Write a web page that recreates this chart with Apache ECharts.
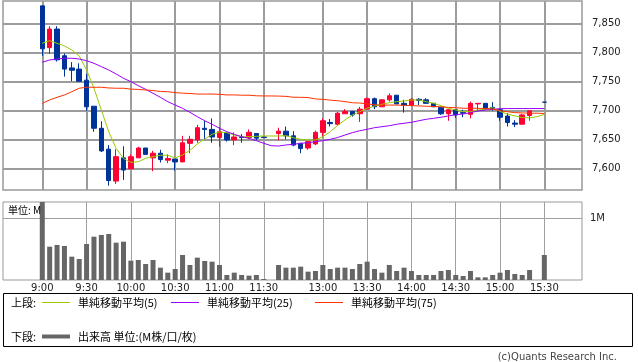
<!DOCTYPE html>
<html><head><meta charset="utf-8">
<script src="https://cdn.jsdelivr.net/npm/echarts@6/dist/echarts.min.js"></script>
<style>html,body{margin:0;padding:0;background:#fff}#c{width:638px;height:362px}</style>
</head><body><div id="c"></div>
<script>
// slot times (5-minute bars); '' = lunch gap slot
const times = ['9:00','9:05','9:10','9:15','9:20','9:25','9:30','9:35','9:40','9:45','9:50','9:55',
'10:00','10:05','10:10','10:15','10:20','10:25','10:30','10:35','10:40','10:45','10:50','10:55',
'11:00','11:05','11:10','11:15','11:20','11:25','11:30','',
'12:30','12:35','12:40','12:45','12:50','12:55','13:00','13:05','13:10','13:15','13:20','13:25',
'13:30','13:35','13:40','13:45','13:50','13:55','14:00','14:05','14:10','14:15','14:20','14:25',
'14:30','14:35','14:40','14:45','14:50','14:55','15:00','15:05','15:10','15:15','15:20','15:25','15:30'];
const tickLabels = ['9:00','9:30','10:00','10:30','11:00','11:30','13:00','13:30','14:00','14:30','15:00','15:30'];
const priceTicks = [7600,7650,7700,7750,7800,7850];
const volTicks = [1];

const openP  = [7880,7808,7840,7794,7773,7771,7752,7707,7669,7633,7578,7618,7599,7618,7635,7618,7626,7614,7616,7611,7643,7649,7669,7667,7653,7661,7649,7654,7653,7660,7654,null,
7660,7664,7656,7643,7635,7642,7662,7679,7676,7694,7698,7694,7702,7720,7706,7718,7726,7712,7709,7719,7718,7712,7705,7694,7701,7696,7693,7711,7712,7705,7701,7690,7678,7676,7691,null,7714];
const closeP = [7806,7840,7787,7771,7769,7750,7706,7669,7630,7579,7620,7597,7620,7635,7624,7626,7615,7617,7611,7644,7650,7670,7667,7654,7663,7649,7654,7653,7662,7652,7653,null,
7664,7656,7640,7634,7646,7662,7682,7677,7695,7698,7692,7702,7720,7706,7718,7725,7711,7709,7719,7717,7712,7706,7694,7701,7692,7695,7712,7712,7703,7703,7688,7679,7676,7692,7699,null,7714];
const lowP   = [7794,7797,7784,7758,7750,7750,7699,7663,7628,7570,7573,7580,7599,7618,7624,7595,7610,7609,7596,7611,7626,7644,7650,7644,7637,7646,7640,7644,7650,7648,7653,null,
7648,7650,7638,7626,7632,7640,7654,7672,7674,7694,7689,7680,7702,7702,7706,7715,7711,7696,7709,7709,7712,7706,7692,7682,7687,7688,7686,7698,7701,7699,7682,7672,7671,7676,7682,null,7714];
const highP  = [7880,7845,7845,7798,7783,7781,7763,7707,7681,7640,7633,7638,7624,7637,7635,7630,7632,7624,7616,7656,7656,7675,7682,7686,7671,7662,7662,7659,7667,7660,7654,null,
7670,7672,7664,7643,7647,7665,7686,7685,7697,7702,7698,7706,7722,7722,7719,7729,7726,7718,7721,7721,7721,7712,7705,7701,7702,7701,7715,7712,7712,7714,7701,7695,7683,7694,7699,null,7714];

const ma5  = [7815.5,7820,7815.5,7811,7804,7793.6,7769.5,7738,7700.5,7663,7634.5,7617,7610.3,7611.4,7617.2,7620,7622.4,7622.4,7617.8,7623,7631,7641.9,7650.5,7658.6,7662.6,7661.4,7657.4,7654.5,7654.5,7655.2,7655.7,7655.7,
7655.7,7656.2,7652.8,7650,7648.8,7648.8,7654.5,7663.1,7674,7683.3,7691.9,7697.6,7703.4,7707.4,7710.3,7713.1,7714.8,7716,7717.8,7717.8,7714.8,7712,7708,7703.4,7700.5,7697.6,7697.6,7700.5,7701.7,7704.5,7698,7693.5,7690.5,7687.5,7687,7689,7693];
const ma25 = [7782.8,7786.7,7788.4,7789.7,7789.7,7788.4,7785.5,7781,7775.2,7769.5,7762.6,7755.2,7749.3,7742.4,7736.2,7729.3,7722.4,7714.8,7709.1,7703.4,7696.5,7689,7682,7675.9,7669,7663.1,7658.6,7654.5,7651.7,7647.6,7643.1,7639,
7638.4,7640.2,7641.4,7643.1,7644.1,7645.9,7647.6,7650,7653,7657.4,7661.4,7664.8,7667.2,7670,7671.7,7673.4,7675.9,7677.6,7679.3,7682,7684.5,7686.2,7688,7690.2,7692.4,7693.6,7695.9,7698.8,7700.5,7701.7,7702.8,7703,7703,7703,7703,7703,7703];
const ma75 = [7712,7717.8,7722.4,7726.4,7732,7738,7739.7,7739.7,7739.7,7738.5,7738,7738,7736.5,7736,7735,7734,7732.5,7732,7730.5,7729.5,7729,7728,7728,7728,7727.5,7726.5,7726.5,7726,7726,7725,7724.7,7724.7,
7724.5,7724,7722.5,7722.4,7722,7719.5,7719,7717.5,7716.5,7715,7713,7712.5,7711,7709.5,7709,7709,7709,7708.5,7708,7707.5,7707,7706.5,7706,7705,7704.5,7703.5,7703.5,7703.4,7703,7702,7699.5,7697.5,7696,7695.5,7695,7695,7694.5];
const volume = [1.35,0.54,0.567,0.551,0.378,0.34,0.583,0.702,0.73,0.746,0.605,0.621,0.313,0.324,0.259,0.324,0.2,0.119,0.178,0.405,0.243,0.362,0.308,0.297,0.243,0.081,0.119,0.081,0.07,0.081,0.016,null,
0.243,0.2,0.2,0.216,0.135,0.146,0.243,0.178,0.2,0.2,0.178,0.259,0.297,0.178,0.119,0.243,0.146,0.2,0.146,0.081,0.081,0.081,0.146,0.162,0.081,0.065,0.146,0.043,0.043,0.081,0.119,0.162,0.097,0.081,0.162,null,0.405];

const tickIdx = tickLabels.map(t => times.indexOf(t));
const candleData = [];
times.forEach((t,i) => { if (openP[i] != null) candleData.push([i, openP[i], closeP[i], lowP[i], highP[i]]); });
const volData = [];
times.forEach((t,i) => { if (volume[i] != null) volData.push([i, volume[i]]); });
const lineData = arr => arr.map((v,i) => [i, v]);

const UP = '#ff0033', DOWN = '#003399';
const FONT = '"DejaVu Sans", sans-serif';
const JFONT = '"Noto Sans CJK JP", sans-serif';
const xMin = -5.32, xMax = 73.1;

const chart = echarts.init(document.getElementById('c'), null, {renderer: 'canvas'});
const legendBase = {
  orient: 'horizontal', icon: 'rect', itemWidth: 28, padding: 0, selectedMode: false,
  textStyle: {fontSize: 11, fontFamily: JFONT, color: '#000', padding: [0,0,0,3]}
};
chart.setOption({
  animation: false,
  backgroundColor: '#fff',
  grid: [
    {left: 3, right: 56, top: 1, height: 189, show: true, borderColor: '#999', borderWidth: 1.5},
    {left: 3, right: 56, top: 202, height: 78, show: true, borderColor: '#999', borderWidth: 1}
  ],
  xAxis: [
    {type: 'value', gridIndex: 0, min: xMin, max: xMax,
     axisLine: {show: false}, axisTick: {show: false, customValues: tickIdx},
     axisLabel: {show: false, customValues: tickIdx},
     splitLine: {show: true, lineStyle: {color: '#9c9c9c', width: 2}}},
    {type: 'value', gridIndex: 1, min: xMin, max: xMax,
     axisLine: {show: false}, axisTick: {show: false, customValues: tickIdx},
     axisLabel: {show: true, customValues: tickIdx, margin: 3, fontSize: 10, fontFamily: FONT, color: '#222',
                 formatter: v => tickLabels[tickIdx.indexOf(Math.round(v))] || ''},
     splitLine: {show: true, lineStyle: {color: '#a0a0a0', width: 1}}}
  ],
  yAxis: [
    {type: 'value', gridIndex: 0, position: 'right', min: 7562.6, max: 7888.4,
     axisLine: {show: false},
     axisTick: {show: true, length: 6, customValues: priceTicks, lineStyle: {color: '#999'}},
     axisLabel: {customValues: priceTicks, margin: 10, fontSize: 10, fontFamily: FONT, color: '#222',
                 formatter: v => Math.round(v).toLocaleString('en-US')},
     splitLine: {show: true, lineStyle: {color: '#9c9c9c', width: 2}}},
    {type: 'value', gridIndex: 1, position: 'right', min: 0, max: 1.264,
     axisLine: {show: false},
     axisTick: {show: true, length: 6, customValues: volTicks, lineStyle: {color: '#999'}},
     axisLabel: {customValues: volTicks, margin: 8, fontSize: 10, fontFamily: FONT, color: '#222',
                 formatter: v => v + 'M'},
     splitLine: {show: true, lineStyle: {color: '#a0a0a0', width: 1}}}
  ],
  legend: [
    Object.assign({}, legendBase, {data: ['単純移動平均(5)'], left: 42, top: 297, itemHeight: 1}),
    Object.assign({}, legendBase, {data: ['単純移動平均(25)'], left: 171, top: 297, itemHeight: 1}),
    Object.assign({}, legendBase, {data: ['単純移動平均(75)'], left: 315, top: 297, itemHeight: 1}),
    Object.assign({}, legendBase, {data: ['出来高 単位:(M株/口/枚)'], left: 42, top: 331, itemHeight: 4})
  ],
  graphic: [
    {type: 'rect', shape: {x: 3.5, y: 293.5, width: 629, height: 53}, style: {fill: 'none', stroke: '#000', lineWidth: 1}, z: 100},
    {type: 'text', x: 11, y: 303, style: {text: '上段:', font: '11px ' + JFONT, fill: '#000', align: 'left', verticalAlign: 'middle'}, z: 100},
    {type: 'text', x: 11, y: 337, style: {text: '下段:', font: '11px ' + JFONT, fill: '#000', align: 'left', verticalAlign: 'middle'}, z: 100},
    {type: 'text', x: 8, y: 210, style: {text: '単位: M', font: '10px ' + JFONT, fill: '#000', align: 'left', verticalAlign: 'middle'}, z: 100},
    {type: 'text', x: 617, y: 357, style: {text: '(c)Quants Research Inc.', font: '10px ' + FONT, fill: '#444', align: 'right', verticalAlign: 'middle'}, z: 100}
  ],
  series: [
    {type: 'candlestick', name: 'price', xAxisIndex: 0, yAxisIndex: 0, data: candleData, barWidth: 5,
     itemStyle: {color: UP, color0: DOWN, borderColor: UP, borderColor0: DOWN, borderColorDoji: DOWN, borderWidth: 1}, z: 2},
    {type: 'line', name: '単純移動平均(5)', xAxisIndex: 0, yAxisIndex: 0, data: lineData(ma5), showSymbol: false, symbol: 'none',
     lineStyle: {color: '#99cc00', width: 1}, itemStyle: {color: '#99cc00'}, z: 3},
    {type: 'line', name: '単純移動平均(25)', xAxisIndex: 0, yAxisIndex: 0, data: lineData(ma25), showSymbol: false, symbol: 'none',
     lineStyle: {color: '#9900ff', width: 1}, itemStyle: {color: '#9900ff'}, z: 3},
    {type: 'line', name: '単純移動平均(75)', xAxisIndex: 0, yAxisIndex: 0, data: lineData(ma75), showSymbol: false, symbol: 'none',
     lineStyle: {color: '#ff3300', width: 1}, itemStyle: {color: '#ff3300'}, z: 3},
    {type: 'bar', name: '出来高 単位:(M株/口/枚)', xAxisIndex: 1, yAxisIndex: 1, data: volData, barWidth: 5,
     itemStyle: {color: '#666'}, clip: true, z: 2}
  ]
});
</script></body></html>
